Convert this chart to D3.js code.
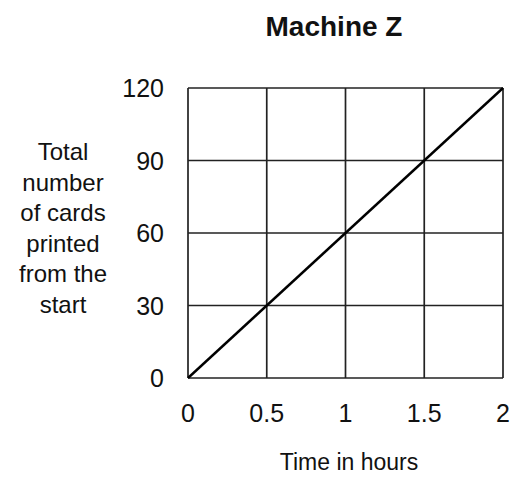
<!DOCTYPE html>
<html>
<head>
<meta charset="utf-8">
<script src="https://d3js.org/d3.v7.min.js"></script>
<style>
    body { margin: 0; background: #fff; }
    text { font-family: "Liberation Sans", Arial, sans-serif; fill: #111; }
</style>
</head>
<body>
<div id="chart"></div>
<script>
    // data
    var hours = [0, 2];
    var cards = [0, 120];
    var xTicks = [0, 0.5, 1, 1.5, 2];
    var yTicks = [0, 30, 60, 90, 120];
    var yLabelLines = ["Total", "number", "of cards", "printed", "from the", "start"];

    var chart_width = 510, chart_height = 489;
    // plot box (note: "top" is reserved on window, so use plot_*)
    var plot_left = 188, plot_right = 503, plot_top = 88, plot_bottom = 378;

    var svg = d3.select('#chart')
        .append('svg')
        .attr('width', chart_width)
        .attr('height', chart_height);

    var x = d3.scaleLinear().domain([0, 2]).range([plot_left, plot_right]);
    var y = d3.scaleLinear().domain([0, 120]).range([plot_bottom, plot_top]);

    // grid
    svg.selectAll('line.vgrid')
        .data(xTicks)
        .enter()
        .append('line')
        .attr('class', 'vgrid')
        .attr('x1', d => x(d)).attr('x2', d => x(d))
        .attr('y1', y(0)).attr('y2', y(120))
        .attr('stroke', '#222')
        .attr('stroke-width', 1.7);

    svg.selectAll('line.hgrid')
        .data(yTicks)
        .enter()
        .append('line')
        .attr('class', 'hgrid')
        .attr('x1', x(0)).attr('x2', x(2))
        .attr('y1', d => y(d)).attr('y2', d => y(d))
        .attr('stroke', '#222')
        .attr('stroke-width', 1.7);

    // the line
    var line = d3.line()
        .x((d, i) => x(hours[i]))
        .y(d => y(d));

    svg.append('path')
        .datum(cards)
        .attr('d', line)
        .attr('fill', 'none')
        .attr('stroke', '#000')
        .attr('stroke-width', 2.4);

    // tick labels
    svg.selectAll('text.xt')
        .data(xTicks)
        .enter()
        .append('text')
        .attr('class', 'xt')
        .attr('x', d => x(d))
        .attr('y', 422)
        .attr('text-anchor', 'middle')
        .attr('font-size', 25)
        .text(d => d);

    svg.selectAll('text.yt')
        .data(yTicks)
        .enter()
        .append('text')
        .attr('class', 'yt')
        .attr('x', 164)
        .attr('y', d => y(d) + 9)
        .attr('text-anchor', 'end')
        .attr('font-size', 25)
        .text(d => d);

    // titles
    svg.append('text')
        .attr('x', 334)
        .attr('y', 36)
        .attr('text-anchor', 'middle')
        .attr('font-size', 28)
        .attr('font-weight', 'bold')
        .text('Machine Z');

    svg.append('text')
        .attr('x', 349)
        .attr('y', 470)
        .attr('text-anchor', 'middle')
        .attr('font-size', 23)
        .text('Time in hours');

    svg.selectAll('text.yl')
        .data(yLabelLines)
        .enter()
        .append('text')
        .attr('class', 'yl')
        .attr('x', 63)
        .attr('y', (d, i) => 160 + i * 30.5)
        .attr('text-anchor', 'middle')
        .attr('font-size', 24)
        .text(d => d);
</script>
</body>
</html>
